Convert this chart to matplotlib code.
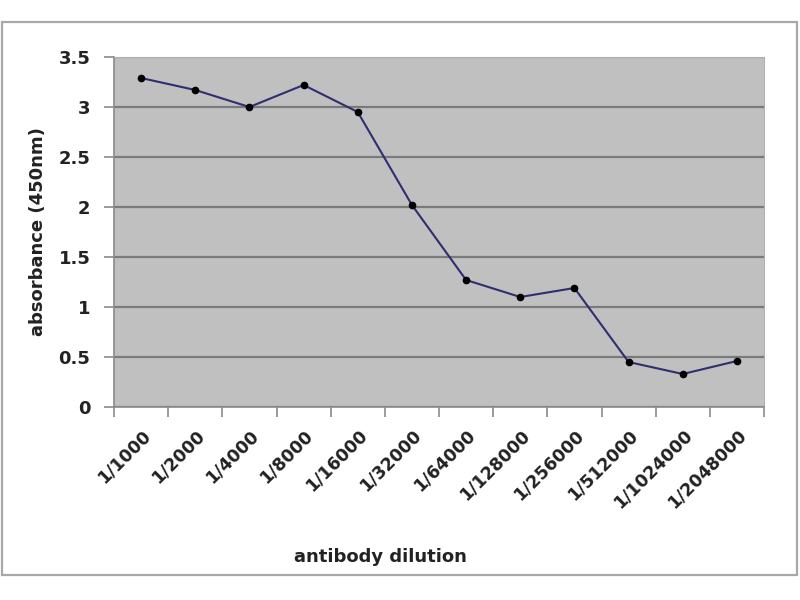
import matplotlib
matplotlib.use("Agg")
import matplotlib.pyplot as plt
from matplotlib.patches import Rectangle
import numpy as np

dilutions = ["1/1000", "1/2000", "1/4000", "1/8000", "1/16000", "1/32000",
             "1/64000", "1/128000", "1/256000", "1/512000", "1/1024000", "1/2048000"]
absorbance = [3.29, 3.17, 3.00, 3.22, 2.95, 2.02, 1.27, 1.10, 1.19, 0.45, 0.33, 0.46]
y_ticks = [0, 0.5, 1, 1.5, 2, 2.5, 3, 3.5]
y_labels = ["0", "0.5", "1", "1.5", "2", "2.5", "3", "3.5"]

plt.rcParams['font.family'] = ['DejaVu Sans']

fig = plt.figure(figsize=(8, 6), dpi=100)
fig.patch.set_facecolor('white')

# outer chart border
fig.patches.append(Rectangle((2/800, 1 - 575/600), 795/800, 553/600,
                             transform=fig.transFigure, fill=False,
                             edgecolor='#a8a8a8', linewidth=1.6))

ax = fig.add_axes([114/800, 1 - 407/600, 650/800, 350/600])
ax.set_facecolor('#c0c0c0')

x = np.arange(len(dilutions))
ax.plot(x, absorbance, color='#2e2e70', linewidth=1.5, marker='o',
        markersize=4.5, markerfacecolor='black', markeredgecolor='black', zorder=3)

ax.set_xlim(-0.5, len(dilutions) - 0.5)
ax.set_ylim(0, 3.5)

ax.set_yticks(y_ticks)
ax.set_yticklabels(y_labels, fontsize=13, fontweight='bold', color='#222222')
ax.yaxis.grid(True, color='#7a7a7a', linewidth=1.6)
ax.set_axisbelow(True)

# category ticks sit between the points, labels under the points
ax.set_xticks(np.arange(len(dilutions) + 1) - 0.5)
ax.set_xticklabels([])
ax.set_xticks(x, minor=True)
ax.set_xticklabels(dilutions, minor=True, rotation=45, ha='right',
                   rotation_mode='anchor', fontsize=12.5, fontweight='bold',
                   color='#222222')
ax.tick_params(axis='x', which='minor', length=0, pad=14)
ax.tick_params(axis='x', which='major', length=7, color='#8a8a8a', width=1.2)
ax.tick_params(axis='y', length=7, color='#8a8a8a', width=1.2, pad=10)

for side in ['top', 'right']:
    ax.spines[side].set_color('#b0b0b0')
    ax.spines[side].set_linewidth(0.8)
for side in ['left', 'bottom']:
    ax.spines[side].set_color('#8a8a8a')
    ax.spines[side].set_linewidth(1.2)

ax.set_ylabel('absorbance (450nm)', fontsize=13, fontweight='bold',
              color='#222222', labelpad=8)
ax.set_xlabel('antibody dilution', fontsize=13, fontweight='bold',
              color='#222222')
ax.xaxis.set_label_coords(380 / 650 - 114 / 650 + 0.0, -141 / 350)

fig.savefig('out.png', dpi=100)
